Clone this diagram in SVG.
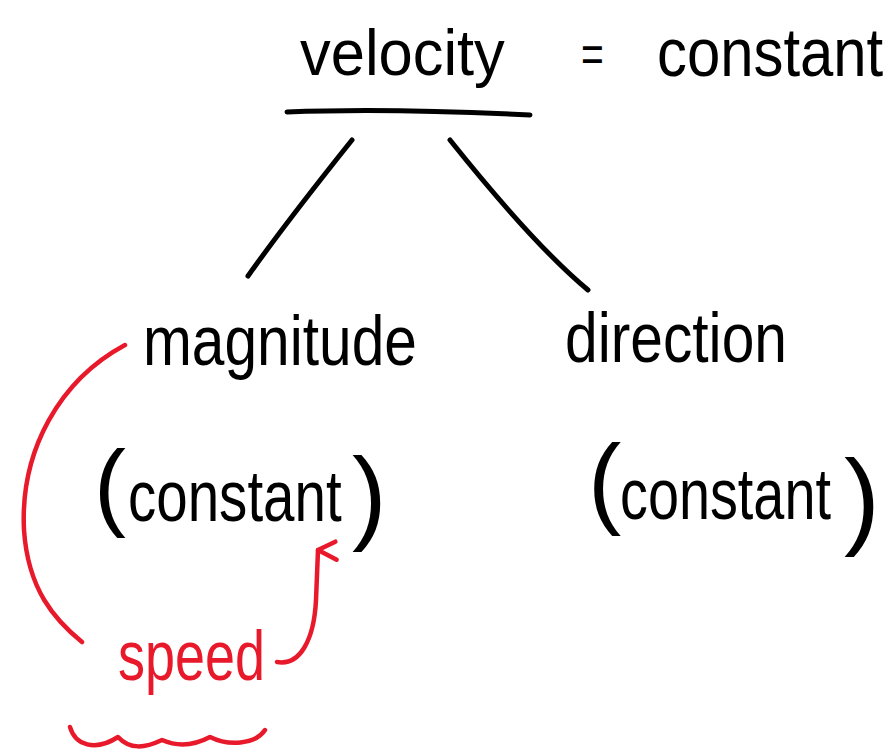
<svg xmlns="http://www.w3.org/2000/svg" width="892" height="754" viewBox="0 0 892 754">
<style>
.hw{font-family:"Liberation Sans","DejaVu Sans",sans-serif;fill:#000}
.red{fill:#e8192b}
.ink{fill:none;stroke:#000;stroke-width:5;stroke-linecap:round;stroke-linejoin:round}
.rink{fill:none;stroke:#e8192b;stroke-width:4.5;stroke-linecap:round;stroke-linejoin:round}
</style>
<defs>
<marker id="arr" viewBox="0 0 30 30" refX="15" refY="5" markerWidth="30" markerHeight="30" markerUnits="userSpaceOnUse" orient="auto-start-reverse">
<path d="M6,24 L15,5 L24,22" fill="none" stroke="#e8192b" stroke-width="4.5" stroke-linecap="round" stroke-linejoin="round"/>
</marker>
</defs>
<rect width="892" height="754" fill="#fff"/>
<g id="connectors">
<path class="ink" d="M287,112 C360,109 450,111 530,115"/>
<path class="ink" d="M352,140 C320,180 282,228 248,276"/>
<path class="ink" d="M450,140 C490,190 540,250 588,290"/>
<path class="rink" d="M125,345 C60,380 20,450 24,530 C28,590 55,620 82,642"/>
<path class="rink" d="M277,662 C300,666 314,640 316,600 L318,550" marker-end="url(#arr)"/>
<path class="rink" d="M70,727 C75,745 95,752 118,737 C130,750 145,748 162,740 C178,747 195,745 210,737 C228,746 255,745 265,730"/>
</g>
<g id="velocity">
<text class="hw" transform="translate(300,75) scale(0.96,1)" font-size="64">velocity</text>
<text class="hw" transform="translate(581,72) scale(0.75,1)" font-size="52">=</text>
<text class="hw" transform="translate(657,76) scale(0.88,1)" font-size="68">constant</text>
</g>
<g id="magnitude">
<text class="hw" transform="translate(143,365) scale(0.838,1)" font-size="70">magnitude</text>
</g>
<g id="direction">
<text class="hw" transform="translate(565,362) scale(0.839,1)" font-size="70">direction</text>
</g>
<g id="magnitude-constant">
<text class="hw" x="94" y="518" font-size="96">(</text>
<text class="hw" transform="translate(128,521) scale(0.785,1)" font-size="72">constant</text>
<text class="hw" x="352" y="530" font-size="104">)</text>
</g>
<g id="direction-constant">
<text class="hw" x="588" y="515" font-size="100">(</text>
<text class="hw" transform="translate(620,519) scale(0.775,1)" font-size="72">constant</text>
<text class="hw" x="844" y="535" font-size="108">)</text>
</g>
<g id="speed">
<text class="hw red" transform="translate(118,680) scale(0.771,1)" font-size="70">speed</text>
</g>
</svg>
